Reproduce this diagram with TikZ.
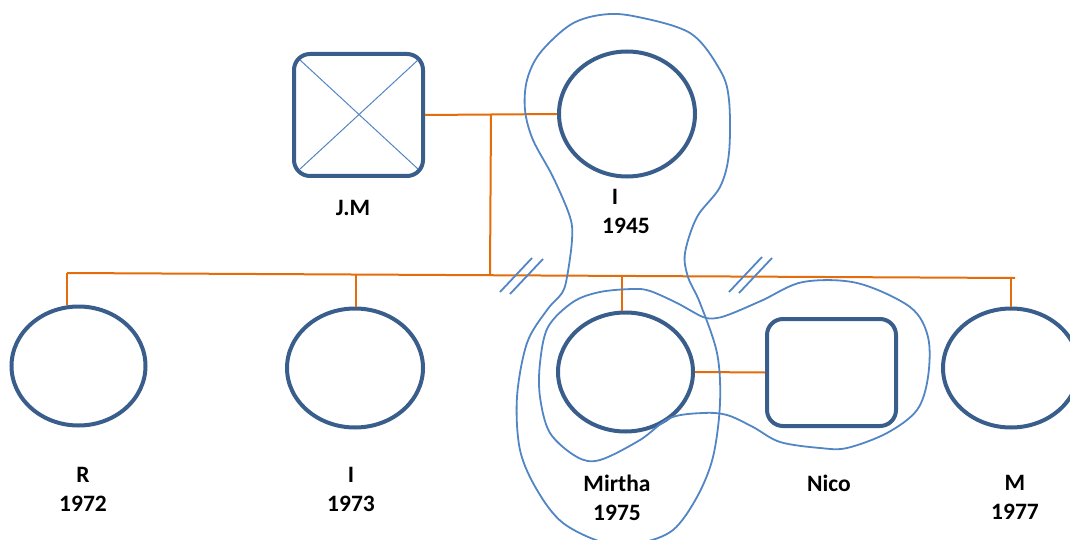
\documentclass[tikz,border=0pt]{standalone}
\usepackage{fontspec}
\setmainfont{Carlito}
\usetikzlibrary{shapes.geometric,calc}
\definecolor{shapeblue}{HTML}{3A5E8C}
\definecolor{lineblue}{HTML}{5285C4}
\definecolor{kinorange}{HTML}{E46C0A}
\begin{document}
\begin{tikzpicture}[x=1pt,y=-1pt,
  female/.style={ellipse,draw=shapeblue,line width=4pt,inner sep=0pt,minimum width=134pt,minimum height=120pt},
  male/.style={rectangle,draw=shapeblue,line width=4pt,rounded corners=16pt,inner sep=0pt},
  kin/.style={draw=kinorange,line width=2pt},
  bound/.style={draw=lineblue,line width=1.8pt},
  lbl/.style={font=\fontsize{23.5}{29}\selectfont\bfseries,align=center,text=black,inner sep=0pt}]
\useasboundingbox (0,0) rectangle (1070,540);
\clip (0,0) rectangle (1070,540);
% people
\node[male,minimum width=129pt,minimum height=122pt] (jm) at (358.5,115) {};
\node[female,minimum width=136pt,minimum height=125pt] (ia) at (627,114) {};
\node[female,minimum height=119pt] (r) at (78.5,366) {};
\node[female,minimum width=136pt,minimum height=119pt] (ib) at (355,368) {};
\node[female,minimum width=135pt,minimum height=119pt] (mirtha) at (625.5,372) {};
\node[male,minimum width=129pt,minimum height=107pt] (nico) at (831.5,372.5) {};
\node[female,minimum width=136pt,minimum height=119pt] (m) at (1011,368) {};
% cross in J.M
\draw[lineblue,line width=1pt] ([shift={(8,8)}]jm.north west) -- ([shift={(-7,-9)}]jm.south east);
\draw[lineblue,line width=1pt] ([shift={(8,-9)}]jm.south west) -- ([shift={(-7,8)}]jm.north east);
% labels
\node[lbl] (jml) at (353,208) {J.M};
\node[lbl] (ial1) at (615,197) {I};
\node[lbl] (ial2) at (626,226) {1945};
\node[lbl] (rl) at (83,489) {R\\1972};
\node[lbl] (ibl) at (351,489) {I\\1973};
\node[lbl] (mirthal) at (617,498) {Mirtha\\1975};
\node[lbl] (nicol) at (829,483) {Nico};
\node[lbl] (ml) at (1015,497) {M\\1977};
% kinship lines
\coordinate (mid) at (491,115);
\coordinate (sibL) at (67,273);
\coordinate (sibR) at (1015,278);
\coordinate (sibMid) at (490,274);
\coordinate (dR) at (67,273);
\coordinate (dIb) at (356,275);
\coordinate (dMi) at (622,276);
\coordinate (dM) at (1011,278);
\draw[kin] (jm.east) -- (ia.west);
\draw[kin] (mid) -- (sibMid);
\draw[kin] (sibL) -- (sibR);
\draw[kin] (dR) -- (dR |- r.north);
\draw[kin] (dIb) -- (dIb |- ib.north);
\draw[kin] (dMi) -- (dMi |- mirtha.north);
\draw[kin] (dM) -- (dM |- m.north);
\draw[kin] (mirtha.east) -- (nico.west);
% separation slashes
\draw[lineblue,line width=1.8pt] (500,292) -- (532,258);
\draw[lineblue,line width=1.8pt] (510,294) -- (543,259);
\draw[lineblue,line width=1.8pt] (729,292) -- (762,257);
\draw[lineblue,line width=1.8pt] (739,293) -- (772,258);
% boundary outlines
\draw[bound] plot[smooth cycle,tension=0.55] coordinates {
 (600,15) (633,16) (690,33) (720,70) (729,100) (729,153) (720,187) (697,217)
 (685,253) (688,277) (700,303) (717,353) (720,403) (713,457) (697,497) (673,530)
 (640,543) (605,543) (563,523) (537,490) (520,450) (517,397) (527,343) (547,310)
 (562,293) (567,277) (572,240) (570,217) (553,177) (533,140) (525,110) (527,80)
 (540,53) (570,25)};
\draw[bound] plot[smooth cycle,tension=0.55] coordinates {
 (573,302) (600,292) (633,289) (650,291) (677,303) (703,317) (717,318) (733,313)
 (763,300) (803,282) (857,283) (910,307) (928,337) (928,377) (917,410) (887,433)
 (847,448) (820,448) (780,442) (753,427) (727,415) (703,413) (670,418) (640,440)
 (600,460) (577,457) (550,433) (540,397) (540,363) (548,327)};
\end{tikzpicture}
\end{document}
